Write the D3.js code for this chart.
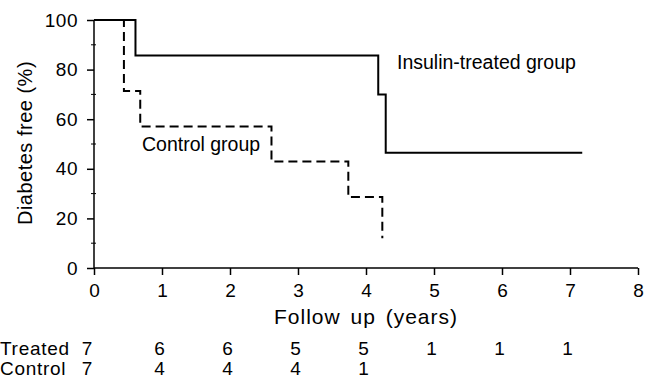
<!DOCTYPE html>
<html>
<head>
<meta charset="utf-8">
<script src="https://cdn.jsdelivr.net/npm/d3@7"></script>
<style>
  body { margin: 0; background: #fff; }
  svg text { font-family: "Liberation Sans", Arial, sans-serif; fill: #000; }
</style>
</head>
<body>
<div id="chart"></div>
<script>
// Kaplan-Meier steps: [years, % diabetes free]
const treated_steps = [
  [0, 100], [0.61, 100], [0.61, 85.7], [4.18, 85.7], [4.18, 70],
  [4.29, 70], [4.29, 46.5], [7.18, 46.5]
];
const control_steps = [
  [0, 100], [0.44, 100], [0.44, 71.4], [0.68, 71.4], [0.68, 57.1],
  [2.61, 57.1], [2.61, 42.9], [3.74, 42.9], [3.74, 28.6], [4.24, 28.6], [4.24, 12]
];
const x_ticks = [0, 1, 2, 3, 4, 5, 6, 7, 8];
const y_ticks = [0, 20, 40, 60, 80, 100];
const y_minor = [10, 30, 50, 70, 90];
const risk_rows = ["Treated", "Control"];
const risk_treated = [7, 6, 6, 5, 5, 1, 1, 1];
const risk_control = [7, 4, 4, 4, 1];

const margin = { top: 20, right: 8, bottom: 111, left: 94 },
  width = 646 - margin.left - margin.right,
  height = 379 - margin.top - margin.bottom;

const svg = d3.select("#chart")
  .append("svg")
  .attr("width", 646)
  .attr("height", 379);

const g = svg.append("g")
  .attr("transform", `translate(${margin.left},${margin.top})`);

const x = d3.scaleLinear().domain([0, 8]).range([0, 544]);
const y = d3.scaleLinear().domain([0, 100]).range([height, 0]);

// x axis
const xAxis = g.append("g")
  .attr("transform", `translate(0,${height})`)
  .call(d3.axisBottom(x).tickValues(x_ticks).tickSize(7).tickPadding(9));
xAxis.selectAll("text").style("font-size", "19px");

// y axis
const yAxis = g.append("g")
  .call(d3.axisLeft(y).tickValues(y_ticks).tickSize(7).tickPadding(9));
yAxis.selectAll("text").style("font-size", "19px").style("letter-spacing", "0.5px");

// minor y ticks
g.selectAll(".minor")
  .data(y_minor)
  .join("line")
  .attr("x1", -3)
  .attr("x2", 2)
  .attr("y1", (d) => y(d))
  .attr("y2", (d) => y(d))
  .attr("stroke", "#000");

g.selectAll(".domain, .tick line").attr("stroke", "#000").attr("stroke-width", 1.5);
xAxis.select(".domain").attr("d", `M0,0H${x(8)}`);
yAxis.select(".domain").attr("d", `M0,${height}V0`);

// curves
const line = d3.line().x((d) => x(d[0])).y((d) => y(d[1]));

g.append("path")
  .datum(treated_steps)
  .attr("d", line)
  .attr("fill", "none")
  .attr("stroke", "#000")
  .attr("stroke-width", 2);

g.append("path")
  .datum(control_steps)
  .attr("d", line)
  .attr("fill", "none")
  .attr("stroke", "#000")
  .attr("stroke-width", 2)
  .attr("stroke-dasharray", "9,5");

// curve labels
g.append("text")
  .attr("x", 303)
  .attr("y", 49)
  .style("font-size", "19.5px")
  .text("Insulin-treated group");

g.append("text")
  .attr("x", 48)
  .attr("y", 131)
  .style("font-size", "19.5px")
  .text("Control group");

// axis titles
g.append("text")
  .attr("text-anchor", "middle")
  .attr("x", x(4))
  .attr("y", height + 56)
  .style("font-size", "21px")
  .style("letter-spacing", "1px")
  .style("word-spacing", "3px")
  .text("Follow up (years)");

svg.append("text")
  .attr("text-anchor", "middle")
  .attr("transform", "translate(32,143) rotate(-90)")
  .style("font-size", "20px")
  .style("letter-spacing", "0.5px")
  .text("Diabetes free (%)");

// numbers at risk
const risk = svg.append("g").style("font-size", "19px").style("letter-spacing", "0.7px");
risk.selectAll(".rowlab")
  .data(risk_rows)
  .join("text")
  .attr("x", 0)
  .attr("y", (d, i) => 355 + i * 20)
  .text((d) => d);

[risk_treated, risk_control].forEach(function (row, i) {
  risk.selectAll(".r" + i)
    .data(row)
    .join("text")
    .attr("text-anchor", (d, j) => (j === 0 ? "end" : "middle"))
    .attr("x", (d, j) => margin.left + x(j) + (j === 0 ? -1 : -2))
    .attr("y", 355 + i * 20)
    .text((d) => d);
});
</script>
</body>
</html>
